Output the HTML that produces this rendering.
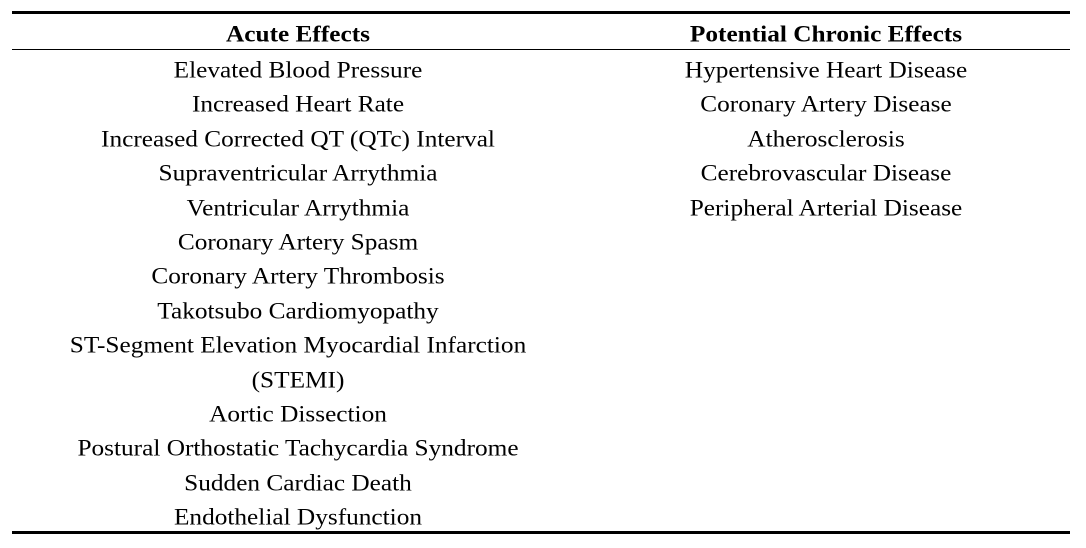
<!DOCTYPE html>
<html><head><style>
body{margin:0;width:1086px;height:548px;background:#fff;position:relative;font-family:"Liberation Serif",serif;color:#000;overflow:hidden}
.l{position:absolute;background:#000;left:12px;width:1058px}
.t{position:absolute;font-size:23px;white-space:nowrap;transform:translate(-50%,-50%) scaleX(1.1);line-height:1}
b.t{font-size:23px}
</style></head><body>
<div class="l" style="top:11px;height:3px"></div>
<div class="l" style="top:49px;height:1px"></div>
<div class="l" style="top:531px;height:3px"></div>
<b class="t" style="left:298px;top:34px">Acute Effects</b>
<b class="t" style="left:826px;top:34px">Potential Chronic Effects</b>
<div class="t" style="left:298px;top:70px">Elevated Blood Pressure</div>
<div class="t" style="left:298px;top:104px">Increased Heart Rate</div>
<div class="t" style="left:298px;top:139px">Increased Corrected QT (QTc) Interval</div>
<div class="t" style="left:298px;top:173px">Supraventricular Arrythmia</div>
<div class="t" style="left:298px;top:208px">Ventricular Arrythmia</div>
<div class="t" style="left:298px;top:242px">Coronary Artery Spasm</div>
<div class="t" style="left:298px;top:276px">Coronary Artery Thrombosis</div>
<div class="t" style="left:298px;top:311px">Takotsubo Cardiomyopathy</div>
<div class="t" style="left:298px;top:345px">ST-Segment Elevation Myocardial Infarction</div>
<div class="t" style="left:298px;top:380px">(STEMI)</div>
<div class="t" style="left:298px;top:414px">Aortic Dissection</div>
<div class="t" style="left:298px;top:448px">Postural Orthostatic Tachycardia Syndrome</div>
<div class="t" style="left:298px;top:483px">Sudden Cardiac Death</div>
<div class="t" style="left:298px;top:517px">Endothelial Dysfunction</div>
<div class="t" style="left:826px;top:70px">Hypertensive Heart Disease</div>
<div class="t" style="left:826px;top:104px">Coronary Artery Disease</div>
<div class="t" style="left:826px;top:139px">Atherosclerosis</div>
<div class="t" style="left:826px;top:173px">Cerebrovascular Disease</div>
<div class="t" style="left:826px;top:208px">Peripheral Arterial Disease</div>
</body></html>
